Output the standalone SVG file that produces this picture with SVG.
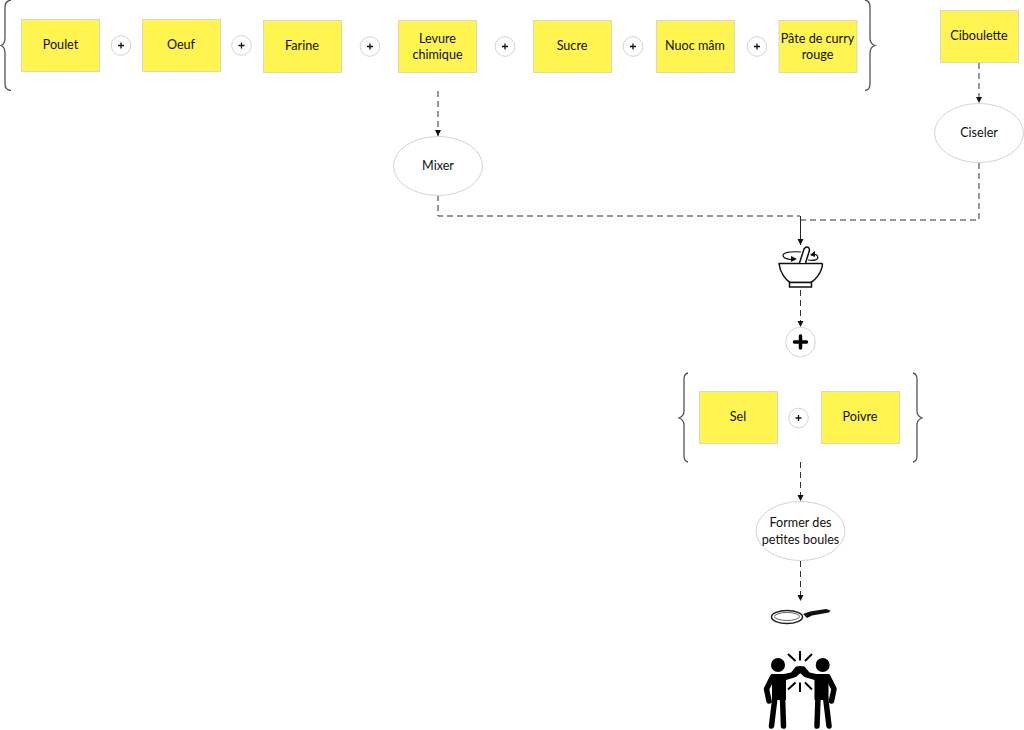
<svg xmlns="http://www.w3.org/2000/svg" width="1024" height="730" viewBox="0 0 1024 730">
<style>
.n{fill:#fff450;stroke:#d9d9c0;stroke-width:1}
.t{font-family:Lato,"Liberation Sans",sans-serif;font-size:12.6px;fill:#111;text-anchor:middle}
.o{fill:#fff;stroke:#d4d4d4;stroke-width:1}
.b{fill:none;stroke:#555;stroke-width:1.3}
.c{fill:none;stroke:#333;stroke-width:1;stroke-dasharray:6 4;marker-end:url(#a)}
.d{fill:none;stroke:#333;stroke-width:1;stroke-dasharray:6 4}
.p{stroke:#111;stroke-width:1.3;fill:none}
.k{fill:#000;stroke:none}
.l{stroke:#000;stroke-width:5.500;stroke-linecap:round;stroke-linejoin:round;fill:none}
.s{stroke:#000;stroke-width:2;fill:none}
</style>
<defs>
<marker id="a" markerWidth="6" markerHeight="8" refX="6" refY="3" orient="auto" markerUnits="userSpaceOnUse"><path d="M0 0L6 3L0 6Z" fill="#111"/></marker>
<g id="plus"><circle class="o" r="9.800"/><path class="p" d="M-3 0H3M0-3V3"/></g>
</defs>
<g id="connectors">
<path class="c" d="M438 91V136"/>
<path class="c" d="M979 63V103"/>
<path class="d" d="M438 195V216H800"/>
<path class="d" d="M979 163V220H801"/>
<path d="M800.500 216V245" fill="none" stroke="#222" stroke-width="1" marker-end="url(#a)"/>
<path class="c" d="M800.500 290V327"/>
<path class="c" d="M800.500 462V501"/>
<path class="c" d="M800.500 561V601"/>
</g>
<g id="brace-left"><path class="b" d="M11 0Q5 1 5 7V38Q5 44 1 45.500Q5 47 5 53V84Q5 90 11 90.500"/></g>
<g id="brace-right"><path class="b" d="M865 0Q870 1 870 7V38Q870 44 875 45.500Q870 47 870 53V84Q870 90 865 90.500"/></g>
<g id="poulet"><rect class="n" x="21.500" y="19.500" width="78" height="52"/><text class="t" x="60.500" y="49">Poulet</text></g>
<g id="plus1"><use href="#plus" x="121" y="45.500"/></g>
<g id="oeuf"><rect class="n" x="142.500" y="19.500" width="78" height="52"/><text class="t" x="181" y="49">Oeuf</text></g>
<g id="plus2"><use href="#plus" x="241.500" y="45.500"/></g>
<g id="farine"><rect class="n" x="263.500" y="20.500" width="78" height="52"/><text class="t" x="302" y="50">Farine</text></g>
<g id="plus3"><use href="#plus" x="370" y="46.500"/></g>
<g id="levure"><rect class="n" x="398.500" y="20.500" width="78" height="52"/><text class="t" x="437.500" y="42.500">Levure</text><text class="t" x="437.500" y="58.500">chimique</text></g>
<g id="plus4"><use href="#plus" x="505" y="46.500"/></g>
<g id="sucre"><rect class="n" x="533.500" y="20.500" width="78" height="52"/><text class="t" x="572" y="50">Sucre</text></g>
<g id="plus5"><use href="#plus" x="633" y="46.500"/></g>
<g id="nuoc"><rect class="n" x="656.500" y="20.500" width="78" height="52"/><text class="t" x="695" y="50">Nuoc mâm</text></g>
<g id="plus6"><use href="#plus" x="757" y="46.500"/></g>
<g id="pate"><rect class="n" x="779" y="20.500" width="78" height="52"/><text class="t" x="817.500" y="42.500">Pâte de curry</text><text class="t" x="817.500" y="58.500">rouge</text></g>
<g id="ciboulette"><rect class="n" x="940.500" y="10.500" width="78" height="52"/><text class="t" x="979" y="40">Ciboulette</text></g>
<g id="mixer"><ellipse class="o" cx="438" cy="166" rx="44.500" ry="29.500"/><text class="t" x="438" y="169.500">Mixer</text></g>
<g id="ciseler"><ellipse class="o" cx="979" cy="133" rx="44.500" ry="29.500"/><text class="t" x="979" y="136.500">Ciseler</text></g>
<g id="mortar">
<path d="M778.500 263.500H822.500" stroke="#111" stroke-width="1.500" fill="none"/>
<path d="M779 263.500C780 273 786 280 790 282.500H811C815 280 822 273 822.500 263.500" stroke="#111" stroke-width="1.500" fill="none"/>
<rect x="789.500" y="282.500" width="22" height="4.500" fill="#fff" stroke="#111" stroke-width="1.500"/>
<path d="M799.500 263L804 249Q806 246 808.500 247.500Q810 249 809 252L805.500 263" fill="#fff" stroke="#111" stroke-width="1.500"/>
<path d="M801 252C789 251 783 253 783 255.500C783 258 788 260 795 259.500" fill="none" stroke="#111" stroke-width="1.200"/>
<path d="M791 256L797 259L791 262Z" fill="#111"/>
<path d="M808 260C814 261 819 260 817.500 256C816.500 254 814 254 811 255" fill="none" stroke="#111" stroke-width="1.200"/>
<path d="M815 251L810 255L815 257Z" fill="#111"/>
</g>
<g id="big-plus"><circle class="o" cx="800.500" cy="342" r="14.800"/><path d="M800.500 336V348M794.500 342H806.500" stroke="#000" stroke-width="3.500" stroke-linecap="round" fill="none"/></g>
<g id="brace-left2"><path class="b" d="M688 373Q684 374 684 379V411Q684 416 679 418Q684 420 684 425V456Q684 461 688 462"/></g>
<g id="brace-right2"><path class="b" d="M913 373Q917 374 917 379V411Q917 416 922 418Q917 420 917 425V456Q917 461 913 462"/></g>
<g id="sel"><rect class="n" x="699.500" y="391.500" width="78" height="52"/><text class="t" x="738" y="421">Sel</text></g>
<g id="plus7"><use href="#plus" x="798.500" y="418"/></g>
<g id="poivre"><rect class="n" x="821.500" y="391.500" width="78" height="52"/><text class="t" x="860" y="421">Poivre</text></g>
<g id="former"><ellipse class="o" cx="800.500" cy="531" rx="44.500" ry="29.500"/><text class="t" x="800.500" y="527">Former des</text><text class="t" x="800.500" y="543.500">petites boules</text></g>
<g id="pan">
<ellipse cx="787" cy="617" rx="15.500" ry="6.500" fill="#fff" stroke="#222" stroke-width="1.500"/>
<ellipse cx="787" cy="616.500" rx="12.500" ry="4" fill="none" stroke="#666" stroke-width="1"/>
<path d="M803 614L807 618L812 615.500L829 612.500L830.500 610.500L826 609L810 611.500Z" fill="#111"/>
</g>
<g id="highfive">
<circle class="k" cx="778" cy="665" r="7"/>
<circle class="k" cx="822.700" cy="665" r="7"/>
<path class="k" d="M771 674H784L791 672.500L796 666.500L801 666L800.500 673L796 677L786 680V700H772V680Z"/>
<path class="k" d="M829.500 674H816.500L809.500 672.500L804.500 666.500L799.500 666L800 673L804.500 677L814.500 680V700H828.500V680Z"/>
<path class="l" d="M772.500 677L766.500 689L769 701"/>
<path class="l" d="M828 677L834 689L831.500 701"/>
<path class="l" d="M775 697L771.500 726M782.500 697L783.500 726"/>
<path class="l" d="M825.500 697L829 726M818 697L817 726"/>
<path class="s" d="M800 651V660.500M788 654L795.500 661M812 654L805 661M800 682.500V692M788 689.500L795.500 682.500M812 689.500L805 682.500"/>
</g>
</svg>
